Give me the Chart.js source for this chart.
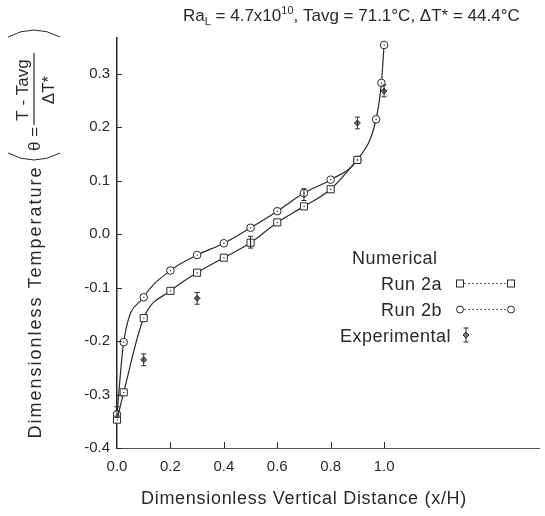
<!DOCTYPE html>
<html>
<head>
<meta charset="utf-8">
<script src="https://cdn.jsdelivr.net/npm/chart.js@4/dist/chart.umd.min.js"></script>
<style>
  html, body { margin: 0; padding: 0; background: #fff; }
  #wrap { width: 545px; height: 516px; }
</style>
</head>
<body>
<div id="wrap"><canvas id="c"></canvas></div>
<script>
// Run 2a (squares), Run 2b (circles), experimental points with error bars
const run2aX = [0.0, 0.025, 0.1, 0.2, 0.3, 0.4, 0.5, 0.6, 0.7, 0.8, 0.9];
const run2aY = [-0.347, -0.296, -0.157, -0.106, -0.072, -0.044, -0.016, 0.022, 0.052, 0.084, 0.139];
const run2bX = [0.0, 0.025, 0.1, 0.2, 0.3, 0.4, 0.5, 0.6, 0.7, 0.8, 0.9, 0.97, 0.99, 1.0];
const run2bY = [-0.337, -0.202, -0.118, -0.068, -0.039, -0.017, 0.012, 0.043, 0.077, 0.102, 0.139, 0.215, 0.283, 0.354];
const expX = [0.0, 0.1, 0.3, 0.5, 0.7, 0.9, 1.0];
const expY = [-0.333, -0.235, -0.12, -0.015, 0.074, 0.208, 0.268];
const expErr = [0.01, 0.011, 0.011, 0.011, 0.011, 0.011, 0.011];
const xTicks = [0.0, 0.2, 0.4, 0.6, 0.8, 1.0];
const yTicks = [-0.4, -0.3, -0.2, -0.1, 0.0, 0.1, 0.2, 0.3];

const FONT = "'Liberation Sans', 'DejaVu Sans', sans-serif";
const INK = "#2a2a2a";

function pts(xs, ys) {
  return xs.map((x, i) => ({ x: x, y: ys[i] }));
}

const decorations = {
  id: "decorations",
  afterDatasetsDraw(chart) {
    const ctx = chart.ctx;
    const xs = chart.scales.x, ys = chart.scales.y;
    const area = chart.chartArea;
    ctx.save();

    // inward tick marks
    ctx.strokeStyle = INK;
    ctx.lineWidth = 1;
    xTicks.forEach((v) => {
      if (v === 0) return;
      const px = Math.round(xs.getPixelForValue(v)) + 0.5;
      ctx.beginPath();
      ctx.moveTo(px, area.bottom);
      ctx.lineTo(px, area.bottom - 6);
      ctx.stroke();
    });
    yTicks.forEach((v) => {
      const py = Math.round(ys.getPixelForValue(v)) + 0.5;
      ctx.beginPath();
      ctx.moveTo(area.left, py);
      ctx.lineTo(area.left + 5, py);
      ctx.stroke();
    });

    // error bars for experimental points
    expX.forEach((x, i) => {
      const px = xs.getPixelForValue(x);
      const top = ys.getPixelForValue(expY[i] + expErr[i]);
      const bot = ys.getPixelForValue(expY[i] - expErr[i]);
      ctx.beginPath();
      ctx.moveTo(px, top); ctx.lineTo(px, bot);
      ctx.moveTo(px - 2.5, top); ctx.lineTo(px + 2.5, top);
      ctx.moveTo(px - 2.5, bot); ctx.lineTo(px + 2.5, bot);
      ctx.stroke();
    });

    // centre dots of open markers
    ctx.fillStyle = INK;
    [0, 1].forEach((di) => {
      chart.getDatasetMeta(di).data.forEach((p) => {
        ctx.fillRect(p.x - 0.5, p.y - 0.5, 1.2, 1.2);
      });
    });

    // title
    ctx.fillStyle = INK;
    ctx.textBaseline = "alphabetic";
    ctx.textAlign = "left";
    let tx = 183;
    const ty = 21;
    const seg = (t, size, dy) => {
      ctx.font = size + "px " + FONT;
      ctx.fillText(t, tx, ty + dy);
      tx += ctx.measureText(t).width;
    };
    seg("Ra", 17, 0);
    seg("L", 11, 4);
    seg(" = 4.7x10", 17, 0);
    seg("10", 11, -7);
    seg(", Tavg = 71.1°C, ΔT* = 44.4°C", 17, 0);

    // x axis title
    ctx.font = "18px " + FONT;
    ctx.letterSpacing = "0.7px";
    ctx.textAlign = "center";
    ctx.fillText("Dimensionless Vertical Distance (x/H)", 304, 504);

    // y axis title
    ctx.save();
    ctx.translate(41, 302);
    ctx.rotate(-Math.PI / 2);
    ctx.letterSpacing = "2px";
    ctx.fillText("Dimensionless Temperature", 0, 0);
    ctx.restore();
    ctx.letterSpacing = "0px";

    // theta definition, rotated
    ctx.save();
    ctx.translate(34, 95);
    ctx.rotate(-Math.PI / 2);
    ctx.font = "17px " + FONT;
    ctx.textAlign = "left";
    ctx.fillText("θ =", -56, 6);
    ctx.textAlign = "center";
    ctx.fillText("T - Tavg", 5, -6);
    ctx.fillText("ΔT*", 5, 20);
    ctx.lineWidth = 1.2;
    ctx.beginPath();
    ctx.moveTo(-30, 0); ctx.lineTo(42, 0);
    ctx.stroke();
    // big parentheses
    ctx.lineWidth = 1;
    ctx.beginPath();
    ctx.moveTo(-58, -26); ctx.quadraticCurveTo(-72, 0, -58, 26);
    ctx.moveTo(58, -26); ctx.quadraticCurveTo(72, 0, 58, 26);
    ctx.stroke();
    ctx.restore();

    // legend
    ctx.textAlign = "left";
    ctx.font = "18px " + FONT;
    ctx.letterSpacing = "0.5px";
    ctx.fillText("Numerical", 352, 264);
    ctx.fillText("Run 2a", 381, 290);
    ctx.fillText("Run 2b", 381, 316);
    ctx.fillText("Experimental", 340, 342);
    ctx.letterSpacing = "0px";
    ctx.strokeStyle = "#666";
    ctx.setLineDash([2, 2]);
    ctx.beginPath();
    ctx.moveTo(460, 283.5); ctx.lineTo(511, 283.5);
    ctx.moveTo(460, 309.5); ctx.lineTo(511, 309.5);
    ctx.stroke();
    ctx.setLineDash([]);
    ctx.strokeStyle = INK;
    ctx.fillStyle = "#fff";
    [460, 511].forEach((lx) => {
      ctx.fillRect(lx - 3.5, 280, 7, 7);
      ctx.strokeRect(lx - 3.5, 280, 7, 7);
      ctx.beginPath();
      ctx.arc(lx, 309.5, 3.5, 0, Math.PI * 2);
      ctx.fill();
      ctx.stroke();
    });
    // experimental legend symbol
    ctx.beginPath();
    ctx.moveTo(466, 328); ctx.lineTo(466, 342);
    ctx.moveTo(463.5, 328); ctx.lineTo(468.5, 328);
    ctx.moveTo(463.5, 342); ctx.lineTo(468.5, 342);
    ctx.stroke();
    ctx.fillStyle = "#777";
    ctx.beginPath();
    ctx.moveTo(466, 332); ctx.lineTo(469, 335); ctx.lineTo(466, 338); ctx.lineTo(463, 335);
    ctx.closePath();
    ctx.fill();
    ctx.stroke();

    ctx.restore();
  },
};

new Chart(document.getElementById("c"), {
  type: "scatter",
  data: {
    datasets: [
      {
        label: "Run 2a",
        data: pts(run2aX, run2aY),
        showLine: true,
        borderColor: INK,
        borderWidth: 1.2,
        cubicInterpolationMode: "monotone",
        pointStyle: "rect",
        pointRadius: 5,
        pointBackgroundColor: "#fff",
        pointBorderColor: INK,
        pointBorderWidth: 1,
        clip: false,
      },
      {
        label: "Run 2b",
        data: pts(run2bX, run2bY),
        showLine: true,
        borderColor: INK,
        borderWidth: 1.2,
        cubicInterpolationMode: "monotone",
        pointStyle: "circle",
        pointRadius: 3.8,
        pointBackgroundColor: "#fff",
        pointBorderColor: INK,
        pointBorderWidth: 1,
        clip: false,
      },
      {
        label: "Experimental",
        data: pts(expX, expY),
        showLine: false,
        pointStyle: "rectRot",
        pointRadius: 3,
        pointBackgroundColor: "#777",
        pointBorderColor: INK,
        pointBorderWidth: 1,
        clip: false,
      },
    ],
  },
  options: {
    responsive: true,
    maintainAspectRatio: false,
    animation: false,
    events: [],
    layout: { padding: { top: 38, right: -5, left: 0, bottom: 0 } },
    plugins: { legend: { display: false }, tooltip: { enabled: false } },
    scales: {
      x: {
        type: "linear",
        min: 0,
        max: 1.58,
        afterBuildTicks: (s) => { s.ticks = xTicks.map((v) => ({ value: v })); },
        afterFit: (s) => { s.height = 68; },
        grid: { display: false, drawTicks: false },
        border: { display: true, color: "#555", width: 1 },
        ticks: {
          padding: 10,
          color: INK,
          font: { family: FONT, size: 15 },
          maxRotation: 0,
          callback: (v) => Number(v).toFixed(1),
        },
      },
      y: {
        type: "linear",
        min: -0.4,
        max: 0.367,
        afterBuildTicks: (s) => { s.ticks = yTicks.map((v) => ({ value: v })); },
        afterFit: (s) => { s.width = 117; },
        grid: { display: false, drawTicks: false },
        border: { display: true, color: INK, width: 1.5 },
        ticks: {
          padding: 7,
          color: INK,
          font: { family: FONT, size: 15 },
          callback: (v) => {
            const r = Math.round(v * 10) / 10;
            return r === 0 ? "0.0" : r.toFixed(1);
          },
        },
      },
    },
  },
  plugins: [decorations],
});
</script>
</body>
</html>
